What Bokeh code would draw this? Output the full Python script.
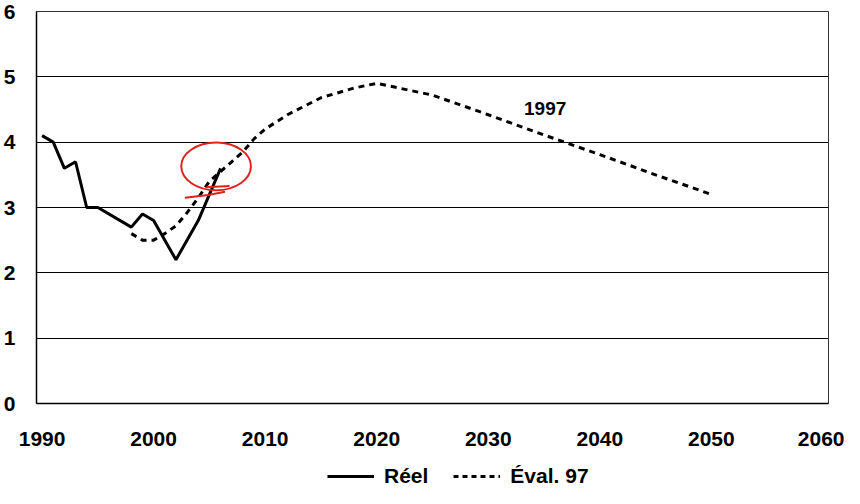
from bokeh.plotting import figure
from bokeh.layouts import column
from bokeh.models import Range1d, FixedTicker, Legend, LegendItem, Label
from bokeh.embed import file_html
from bokeh.resources import INLINE

# Data
reel_years = [1990, 1991, 1992, 1993, 1994, 1995, 1998, 1999, 2000, 2002, 2004, 2006]
reel_values = [4.1, 4.0, 3.6, 3.7, 3.0, 3.0, 2.7, 2.9, 2.8, 2.2, 2.8, 3.6]

eval_years = [1998, 1999, 2000, 2001, 2002, 2003, 2004, 2005, 2006, 2007, 2008, 2009,
              2010, 2012, 2015, 2018, 2020, 2025, 2030, 2035, 2040, 2045, 2050]
eval_values = [2.6, 2.5, 2.5, 2.6, 2.72, 2.92, 3.15, 3.4, 3.55, 3.7, 3.85, 4.05,
               4.2, 4.42, 4.68, 4.83, 4.9, 4.72, 4.42, 4.11, 3.81, 3.5, 3.2]

x_ticks = [1990, 2000, 2010, 2020, 2030, 2040, 2050, 2060]
y_ticks = [0, 1, 2, 3, 4, 5, 6]
series_names = ["Réel", "Éval. 97"]

# Hand-drawn red annotation (circle + strokes)
circle_center = (2005.6, 3.63)
circle_size = (6.25, 0.73)
tail_x = [2002.8, 2004.9, 2006.4]
tail_y = [3.15, 3.19, 3.24]
stroke_x = [2004.7, 2006.8]
stroke_y = [3.31, 3.33]

FONT = "Liberation Sans"

p = figure(width=844, height=453, output_backend="svg", toolbar_location=None,
           x_range=Range1d(1989.5, 2060.5), y_range=Range1d(0, 6),
           min_border_left=33, min_border_right=16, min_border_top=11,
           min_border_bottom=50)

p.background_fill_color = "white"
p.border_fill_color = "white"
p.outline_line_color = "#333333"
p.outline_line_width = 1

# axes
p.xaxis.ticker = FixedTicker(ticks=x_ticks)
p.yaxis.ticker = FixedTicker(ticks=y_ticks)
for ax in (p.xaxis[0], p.yaxis[0]):
    ax.major_tick_line_color = None
    ax.minor_tick_line_color = None
    ax.axis_line_color = "black"
    ax.axis_line_width = 1.5
    ax.major_label_text_font = FONT
    ax.major_label_text_font_style = "bold"
    ax.major_label_text_font_size = "21px"
    ax.major_label_text_color = "black"
p.xaxis.major_label_standoff = 22
p.yaxis.major_label_standoff = 15

p.xgrid.grid_line_color = None
p.ygrid.grid_line_color = "black"
p.ygrid.grid_line_width = 1

# lines
p.line(reel_years, reel_values, line_color="black", line_width=3)
p.line(eval_years, eval_values, line_color="black", line_width=3,
       line_dash="6 5")

# annotation label
p.add_layout(Label(x=2035.1, y=4.52, text="1997", text_font=FONT,
                   text_font_style="bold", text_font_size="19px",
                   text_align="center", text_baseline="middle",
                   text_color="black"))

# red hand-drawn marks
p.ellipse(x=[circle_center[0]], y=[circle_center[1]], width=circle_size[0],
          height=circle_size[1], fill_color=None, line_color="#e3201b",
          line_width=2)
p.line(tail_x, tail_y, line_color="#e3201b", line_width=2)
p.line(stroke_x, stroke_y, line_color="#e3201b", line_width=2)

# legend strip below the chart (proxy glyphs lie outside its visible range)
lg = figure(width=844, height=35, output_backend="svg", toolbar_location=None,
            x_range=Range1d(0, 1), y_range=Range1d(0, 1),
            x_axis_location=None, y_axis_location=None,
            min_border_left=0, min_border_right=0, min_border_top=0,
            min_border_bottom=0)
lg.grid.grid_line_color = None
lg.outline_line_color = None
lg.background_fill_color = "white"
lg.border_fill_color = "white"
s1 = lg.line([5, 6], [5, 5], line_color="black", line_width=3)
s2 = lg.line([5, 6], [5, 5], line_color="black", line_width=3, line_dash="5 4")
legend = Legend(items=[LegendItem(label=series_names[0], renderers=[s1]),
                       LegendItem(label=series_names[1], renderers=[s2])],
                orientation="horizontal", location=(291, 0),
                label_text_font=FONT, label_text_font_style="bold",
                label_text_font_size="21px", label_text_color="black",
                glyph_width=47, glyph_height=22, label_height=22,
                label_standoff=10, spacing=25, padding=0, margin=0,
                border_line_color=None, background_fill_alpha=0)
lg.add_layout(legend)

layout = column(p, lg, spacing=0)
open("out.html", "w").write(file_html(layout, INLINE))
